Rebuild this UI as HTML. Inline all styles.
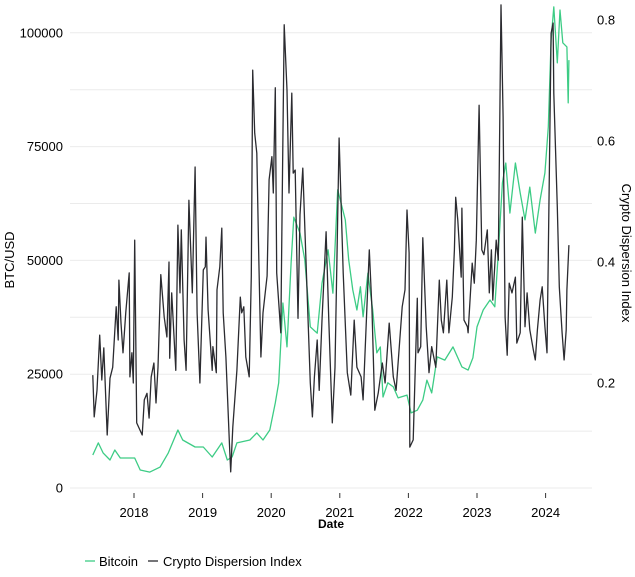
<!DOCTYPE html>
<html><head><meta charset="utf-8"><style>
body{margin:0;background:#fff;}
svg text{font-family:"Liberation Sans",sans-serif;}
</style></head><body>
<svg id="chart" width="635" height="572" xmlns="http://www.w3.org/2000/svg">
<g id="grid"></g>
<g id="axes"></g>
<path id="btc" fill="none" stroke="#3dcc85" stroke-width="1.3" stroke-linejoin="round"/>
<path id="cdi" fill="none" stroke="#2b2b30" stroke-width="1.3" stroke-linejoin="round"/>
<text x="14" y="260" font-size="13" text-anchor="middle" transform="rotate(-90 14 260)">BTC/USD</text>
<text x="622" y="253" font-size="13" text-anchor="middle" transform="rotate(90 622 253)">Crypto Dispersion Index</text>
<text x="331" y="528" font-size="12" font-weight="bold" text-anchor="middle">Date</text>
<g>
<g>
<line x1="85" y1="561" x2="95" y2="561" stroke="#3dcc85" stroke-width="1.3"/>
<text x="99" y="566" font-size="13">Bitcoin</text>
</g>
<g>
<line x1="148" y1="561" x2="158" y2="561" stroke="#2b2b30" stroke-width="1.3"/>
<text x="163" y="566" font-size="13">Crypto Dispersion Index</text>
</g>
</g>
</svg>
<script>
const btcDates=[2017.40,2017.48,2017.55,2017.65,2017.72,2017.80,2018.01,2018.09,2018.23,2018.38,2018.50,2018.64,2018.71,2018.89,2019.01,2019.14,2019.28,2019.36,2019.43,2019.50,2019.69,2019.79,2019.88,2019.98,2020.06,2020.11,2020.17,2020.23,2020.29,2020.33,2020.42,2020.49,2020.57,2020.67,2020.74,2020.83,2020.90,2020.97,2021.08,2021.13,2021.19,2021.25,2021.30,2021.34,2021.41,2021.48,2021.54,2021.59,2021.63,2021.70,2021.78,2021.85,2021.98,2022.04,2022.13,2022.21,2022.27,2022.34,2022.42,2022.53,2022.65,2022.78,2022.87,2022.94,2023.00,2023.09,2023.19,2023.26,2023.31,2023.37,2023.42,2023.48,2023.56,2023.63,2023.70,2023.77,2023.85,2023.92,2023.99,2024.04,2024.08,2024.12,2024.17,2024.21,2024.25,2024.31,2024.33,2024.34];
const btcValues=[7250,9900,7700,6150,8350,6600,6600,3950,3500,4600,7700,12750,10550,9000,9000,6800,9900,6150,6800,9900,10550,12100,10550,12750,18700,23100,40650,31000,49400,59500,56000,50100,35400,34000,45000,52300,42800,65500,58900,50100,43500,39100,44200,37600,47200,39100,29700,31000,20000,23100,22200,19800,20400,16500,17100,19300,23700,20900,28800,28100,31000,26600,25900,28600,35400,39100,41300,39800,51600,67000,71400,60400,71400,64800,58900,66100,56000,63300,69200,79300,98400,105700,93400,105000,97800,96900,84600,94000];
const cdiDates=[2017.40,2017.42,2017.46,2017.50,2017.53,2017.56,2017.61,2017.65,2017.69,2017.74,2017.77,2017.78,2017.81,2017.84,2017.88,2017.93,2017.94,2017.97,2017.99,2018.01,2018.04,2018.12,2018.15,2018.19,2018.22,2018.25,2018.29,2018.32,2018.35,2018.39,2018.44,2018.48,2018.51,2018.52,2018.55,2018.61,2018.64,2018.67,2018.69,2018.73,2018.76,2018.80,2018.85,2018.89,2018.92,2018.96,2019.01,2019.04,2019.05,2019.08,2019.14,2019.15,2019.20,2019.21,2019.25,2019.28,2019.30,2019.34,2019.39,2019.41,2019.44,2019.50,2019.55,2019.57,2019.60,2019.63,2019.68,2019.71,2019.73,2019.76,2019.79,2019.82,2019.85,2019.88,2019.94,2019.97,2020.01,2020.03,2020.06,2020.08,2020.14,2020.16,2020.19,2020.23,2020.26,2020.30,2020.32,2020.35,2020.39,2020.42,2020.46,2020.49,2020.52,2020.57,2020.60,2020.63,2020.67,2020.70,2020.74,2020.80,2020.84,2020.89,2020.93,2020.99,2021.05,2021.11,2021.16,2021.21,2021.25,2021.31,2021.34,2021.40,2021.43,2021.47,2021.51,2021.56,2021.62,2021.66,2021.72,2021.78,2021.82,2021.85,2021.91,2021.95,2021.98,2022.01,2022.02,2022.07,2022.10,2022.13,2022.14,2022.18,2022.21,2022.26,2022.30,2022.34,2022.40,2022.45,2022.48,2022.51,2022.56,2022.59,2022.64,2022.67,2022.69,2022.72,2022.77,2022.78,2022.81,2022.86,2022.87,2022.93,2022.96,2022.99,2023.03,2023.07,2023.10,2023.15,2023.18,2023.21,2023.23,2023.28,2023.31,2023.35,2023.38,2023.41,2023.44,2023.47,2023.51,2023.56,2023.58,2023.63,2023.66,2023.70,2023.73,2023.77,2023.82,2023.85,2023.88,2023.92,2023.95,2023.99,2024.02,2024.05,2024.08,2024.11,2024.12,2024.17,2024.20,2024.24,2024.27,2024.30,2024.31,2024.34];
const cdiValues=[.213,.144,.188,.279,.205,.258,.114,.208,.226,.326,.271,.370,.299,.250,.317,.382,.210,.250,.200,.436,.134,.114,.172,.183,.142,.210,.233,.167,.226,.379,.309,.276,.400,.241,.349,.221,.461,.349,.453,.271,.221,.502,.349,.557,.316,.200,.387,.392,.441,.321,.221,.260,.217,.354,.392,.456,.316,.243,.101,.053,.127,.221,.342,.316,.326,.243,.210,.377,.717,.613,.580,.398,.243,.316,.377,.536,.574,.514,.688,.382,.283,.502,.792,.684,.514,.679,.547,.552,.307,.478,.555,.458,.359,.200,.144,.210,.271,.188,.304,.450,.304,.134,.226,.605,.382,.217,.180,.304,.226,.210,.172,.337,.420,.321,.155,.183,.233,.200,.299,.210,.188,.233,.326,.354,.486,.415,.094,.106,.226,.340,.250,.260,.440,.293,.217,.260,.226,.370,.304,.283,.370,.283,.342,.420,.507,.469,.375,.489,.304,.293,.283,.398,.365,.436,.659,.420,.412,.453,.349,.420,.337,.436,.403,.825,.640,.309,.246,.365,.349,.375,.266,.283,.474,.293,.349,.288,.255,.238,.288,.337,.359,.293,.250,.502,.778,.795,.679,.491,.359,.283,.238,.288,.354,.428];
const yearTicks=[2018,2019,2020,2021,2022,2023,2024];
const leftTicks=[0,25000,50000,75000,100000];
const leftGrid=[0,12500,25000,37500,50000,62500,75000,87500,100000];
const rightTicks=[0.2,0.4,0.6,0.8];

const X=d=>134+(d-2018)*68.6;
const YL=v=>488-v/25000*113.8;
const YR=v=>504-v*605;
const NS='http://www.w3.org/2000/svg';
function mk(tag,attrs,parent,txt){const e=document.createElementNS(NS,tag);for(const k in attrs)e.setAttribute(k,attrs[k]);if(txt!==undefined)e.textContent=txt;parent.appendChild(e);return e;}
const grid=document.getElementById('grid'),axes=document.getElementById('axes');
leftGrid.forEach(v=>{const l=mk('line',{x1:70,x2:592,y1:YL(v),y2:YL(v),stroke:'#ebebeb','stroke-width':1},grid);

});
leftTicks.forEach(v=>{const t=mk('text',{x:63,y:YL(v)+4.5,'font-size':13,'text-anchor':'end'},axes,String(v));

});
rightTicks.forEach(v=>{const t=mk('text',{x:597,y:YR(v)+4.5,'font-size':13},axes,v.toFixed(1));

});
yearTicks.forEach(y=>{const l=mk('line',{x1:X(y),x2:X(y),y1:493,y2:498,stroke:'#333','stroke-width':1},axes);


const t=mk('text',{x:X(y),y:517,'font-size':13,'text-anchor':'middle'},axes,String(y));

});
document.getElementById('btc').setAttribute('d',btcDates.map((d,i)=>(i?'L':'M')+X(d).toFixed(1)+','+YL(btcValues[i]).toFixed(1)).join(''));
document.getElementById('cdi').setAttribute('d',cdiDates.map((d,i)=>(i?'L':'M')+X(d).toFixed(1)+','+YR(cdiValues[i]).toFixed(1)).join(''));
</script>
</body></html>
